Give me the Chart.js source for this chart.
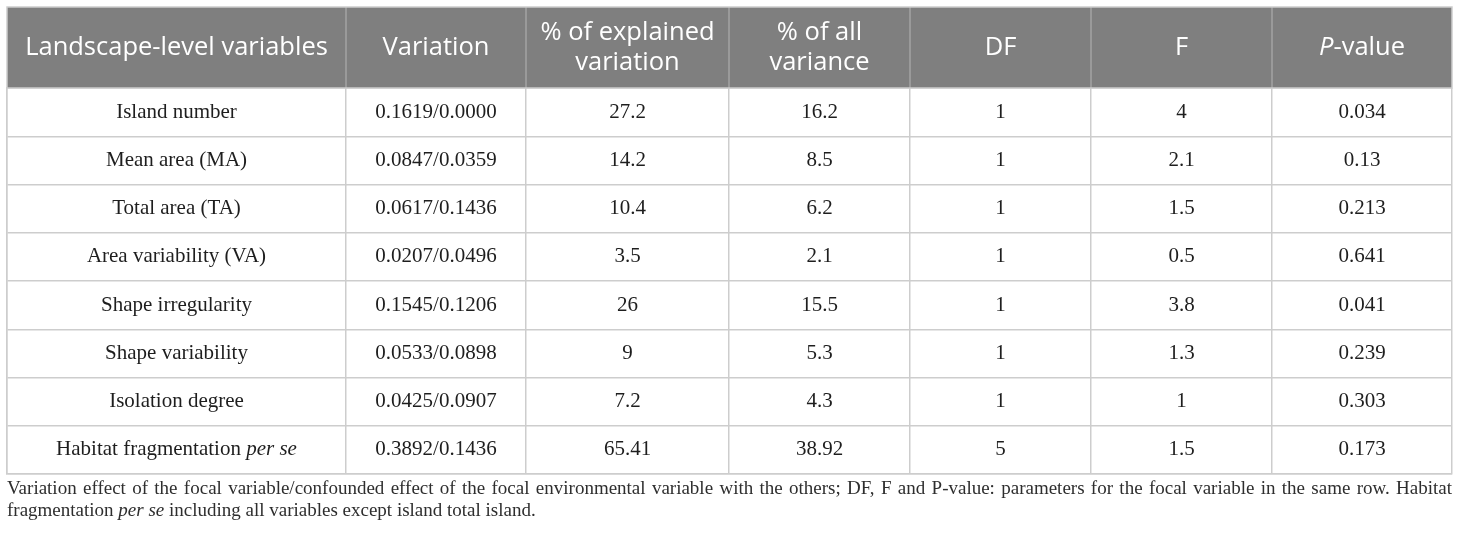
<!DOCTYPE html>
<html>
<head>
<meta charset="utf-8">
<script src="https://cdn.jsdelivr.net/npm/chart.js@4/dist/chart.umd.min.js"></script>
<style>
  html, body { margin: 0; padding: 0; background: #fff; }
  canvas { display: block; }
</style>
</head>
<body>
<canvas id="table" width="1460" height="536"></canvas>
<script>
// table content
var variables = ['Island number', 'Mean area (MA)', 'Total area (TA)', 'Area variability (VA)',
  'Shape irregularity', 'Shape variability', 'Isolation degree', 'Habitat fragmentation <i>per se</i>'];
var variationFocal = [0.1619, 0.0847, 0.0617, 0.0207, 0.1545, 0.0533, 0.0425, 0.3892];
var variationShared = [0.0000, 0.0359, 0.1436, 0.0496, 0.1206, 0.0898, 0.0907, 0.1436];
var explainedPct = [27.2, 14.2, 10.4, 3.5, 26, 9, 7.2, 65.41];
var allVariancePct = [16.2, 8.5, 6.2, 2.1, 15.5, 5.3, 4.3, 38.92];
var dfValues = [1, 1, 1, 1, 1, 1, 1, 5];
var fValues = [4, 2.1, 1.5, 0.5, 3.8, 1.3, 1, 1.5];
var pValues = [0.034, 0.13, 0.213, 0.641, 0.041, 0.239, 0.303, 0.173];
var headers = [['Landscape-level variables'], ['Variation'], ['% of explained', 'variation'],
  ['% of all', 'variance'], ['DF'], ['F'], ['<i>P</i>-value']];
var captionLines = [
  'Variation effect of the focal variable/confounded effect of the focal environmental variable with the others; DF, F and P-value: parameters for the focal variable in the same row. Habitat',
  'fragmentation <i>per se</i> including all variables except island total island.'
];

// layout / style
var colWidths = [339, 180, 203, 181, 181, 181, 180];
var gridColor = '#cdcdcd';
var headFill = '#7f7f7f';
var serif = '"Liberation Serif", "DejaVu Serif", serif';
var sans = '"Open Sans", "Noto Sans", sans-serif';

var colEdges = [0];
colWidths.forEach(function(w) { colEdges.push(colEdges[colEdges.length - 1] + w); });

function cellText(col, row) {
  if (col === 0) return variables[row];
  if (col === 1) return variationFocal[row].toFixed(4) + '/' + variationShared[row].toFixed(4);
  if (col === 2) return String(explainedPct[row]);
  if (col === 3) return String(allVariancePct[row]);
  if (col === 4) return String(dfValues[row]);
  if (col === 5) return String(fValues[row]);
  return String(pValues[row]);
}

function parseRich(s) {
  return s.split(/(<i>.*?<\/i>)/).filter(Boolean).map(function(p) {
    return p.indexOf('<i>') === 0 ? { t: p.slice(3, -4), i: true } : { t: p, i: false };
  });
}

function setFont(ctx, italic, size, family) {
  ctx.font = (italic ? 'italic ' : '') + size + 'px ' + family;
}

function richWidth(ctx, parts, size, family) {
  return parts.reduce(function(sum, p) {
    setFont(ctx, p.i, size, family);
    return sum + ctx.measureText(p.t).width;
  }, 0);
}

function drawRich(ctx, s, x, y, size, family, align) {
  var parts = parseRich(s);
  var w = richWidth(ctx, parts, size, family);
  var cx = align === 'left' ? x : x - w / 2;
  ctx.textAlign = 'left';
  parts.forEach(function(p) {
    setFont(ctx, p.i, size, family);
    ctx.fillText(p.t, cx, y);
    cx += ctx.measureText(p.t).width;
  });
}

function drawJustified(ctx, s, left, right, y, size, family) {
  var words = s.split(' ');
  setFont(ctx, false, size, family);
  var widths = words.map(function(w) { return ctx.measureText(w).width; });
  var total = widths.reduce(function(a, b) { return a + b; }, 0);
  var gap = (right - left - total) / (words.length - 1);
  var cx = left;
  ctx.textAlign = 'left';
  words.forEach(function(w, i) {
    ctx.fillText(w, cx, y);
    cx += widths[i] + gap;
  });
}

var tablePlugin = {
  id: 'tablePlugin',
  afterDraw: function(chart) {
    var ctx = chart.ctx,
      xs = chart.scales.x,
      ys = chart.scales.y,
      area = chart.chartArea,
      headTop = 7;

    ctx.save();

    // header band
    ctx.fillStyle = headFill;
    ctx.fillRect(area.left, headTop, area.right - area.left, area.top - headTop);
    ctx.strokeStyle = '#a3a3a3';
    ctx.lineWidth = 1.5;
    colEdges.slice(1, -1).forEach(function(e) {
      var px = xs.getPixelForValue(e);
      ctx.beginPath();
      ctx.moveTo(px, headTop);
      ctx.lineTo(px, area.top);
      ctx.stroke();
    });
    ctx.strokeStyle = gridColor;
    ctx.strokeRect(area.left, headTop, area.right - area.left, area.top - headTop);

    ctx.fillStyle = '#ffffff';
    ctx.textBaseline = 'middle';
    var headMid = (headTop + area.top) / 2;
    headers.forEach(function(lines, c) {
      var cx = xs.getPixelForValue((colEdges[c] + colEdges[c + 1]) / 2);
      lines.forEach(function(line, k) {
        var ly = headMid + (k - (lines.length - 1) / 2) * 30;
        drawRich(ctx, line, cx, ly, 25.5, sans, 'center');
      });
    });

    // body cells
    ctx.fillStyle = '#1e1e1e';
    variables.forEach(function(_, r) {
      var cy = ys.getPixelForValue(r);
      colWidths.forEach(function(__, c) {
        var cx = xs.getPixelForValue((colEdges[c] + colEdges[c + 1]) / 2);
        drawRich(ctx, cellText(c, r), cx, cy, 21, serif, 'center');
      });
    });

    // caption
    ctx.fillStyle = '#2e2e2e';
    ctx.textBaseline = 'alphabetic';
    drawJustified(ctx, captionLines[0], area.left, area.right, area.bottom + 20, 19, serif);
    drawRich(ctx, captionLines[1], area.left, area.bottom + 42, 19, serif, 'left');

    ctx.restore();
  }
};

new Chart(document.getElementById('table').getContext('2d'), {
  type: 'bar',
  data: { labels: variables, datasets: [] },
  options: {
    responsive: false,
    animation: false,
    indexAxis: 'y',
    layout: { padding: { left: 7, right: 8, top: 88, bottom: 62 } },
    plugins: { legend: { display: false }, tooltip: { enabled: false } },
    scales: {
      x: {
        type: 'linear',
        min: 0,
        max: colEdges[colEdges.length - 1],
        afterBuildTicks: function(scale) {
          scale.ticks = colEdges.map(function(v) { return { value: v }; });
        },
        ticks: { display: false, padding: 0 },
        grid: { color: gridColor, lineWidth: 1.5, drawTicks: false },
        border: { color: gridColor, width: 1.5 }
      },
      y: {
        type: 'category',
        offset: true,
        ticks: { display: false, padding: 0 },
        grid: { offset: true, color: gridColor, lineWidth: 1.5, drawTicks: false },
        border: { color: gridColor, width: 1.5 }
      }
    }
  },
  plugins: [tablePlugin]
});
</script>
</body>
</html>
